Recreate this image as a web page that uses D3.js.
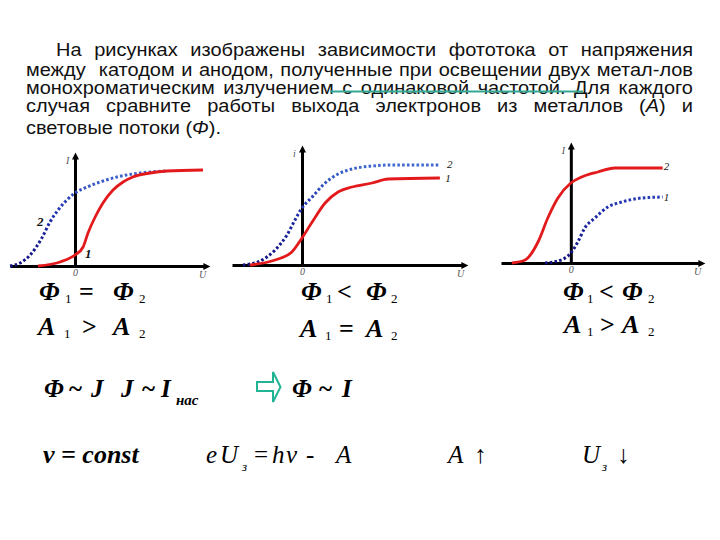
<!DOCTYPE html>
<html>
<head>
<meta charset="utf-8">
<script src="https://cdn.jsdelivr.net/npm/d3@7"></script>
<style>
body { margin: 0; background: #fff; }
</style>
</head>
<body>
<script>
var width = 720;
var height = 540;

// paragraph lines, |...| marks italic parts
var paraLines = [
    "На рисунках изображены зависимости фототока от напряжения",
    "между  катодом и анодом, полученные при освещении двух метал-лов",
    "монохроматическим излучением с одинаковой частотой. Для каждого",
    "случая сравните работы выхода электронов из металлов (|А|) и",
    "световые потоки (|Φ|)."
];

// curves, U (arbitrary units) vs I (arbitrary units)
// panel A : Ф1 = Ф2, A1 > A2
var uA1 = [-1.14, -0.46, 0, 0.25, 0.4, 0.62, 0.86, 1.17, 1.48, 1.78, 2.31, 2.83, 3.94];
var iA1 = [0, 0.04, 0.11, 0.19, 0.33, 0.49, 0.63, 0.76, 0.84, 0.89, 0.93, 0.95, 0.96];
var uA2 = [-2, -1.69, -1.38, -1.02, -0.77, -0.52, -0.25, 0, 0.37, 0.77, 1.29, 1.78, 2.31, 2.83];
var iA2 = [0, 0.03, 0.11, 0.28, 0.44, 0.56, 0.66, 0.73, 0.79, 0.84, 0.89, 0.92, 0.94, 0.95];
// panel B : Ф1 < Ф2, A1 = A2
var uB1 = [-1.49, -0.77, -0.29, 0, 0.29, 0.66, 1.03, 1.43, 2.0, 2.46, 3.94];
var iB1 = [0, 0.05, 0.13, 0.27, 0.43, 0.62, 0.73, 0.78, 0.82, 0.86, 0.87];
var uB2 = [-1.69, -1.26, -0.77, -0.43, -0.2, 0, 0.29, 0.66, 1.03, 1.43, 2.0, 2.57, 3.94];
var iB2 = [0, 0.03, 0.15, 0.30, 0.45, 0.57, 0.68, 0.82, 0.91, 0.96, 0.99, 1.0, 1.0];
// panel C : Ф1 < Ф2, A1 > A2
var uC1 = [-0.74, -0.37, 0, 0.2, 0.4, 0.69, 1.06, 1.46, 2.03, 2.63];
var iC1 = [0, 0.02, 0.10, 0.21, 0.35, 0.45, 0.56, 0.61, 0.65, 0.66];
var uC2 = [-1.69, -1.31, -0.94, -0.66, -0.37, 0, 0.31, 0.77, 1.26, 2.63];
var iC2 = [0, 0.03, 0.21, 0.45, 0.65, 0.80, 0.86, 0.91, 0.95, 0.95];

var zip = function(u, i) { return u.map(function(d, k) { return [d, i[k]]; }); };

var panels = [
    { u: [-2, 4], i: [0, 1.09], xr: [10, 205], yr: [266, 157], yLab: "I", labBold: true,
      curves: [
        { pts: zip(uA2, iA2), dotted: true, name: "2", at: [-1.17, 0.40] },
        { pts: zip(uA1, iA1), dotted: false, name: "1", at: [0.31, 0.08] }
      ] },
    { u: [-2, 4.6], i: [0, 1.15], xr: [232, 463], yr: [265, 150], yLab: "i", labBold: false,
      curves: [
        { pts: zip(uB2, iB2), dotted: true, name: "2", at: [4.14, 0.97] },
        { pts: zip(uB1, iB1), dotted: false, name: "1", at: [4.09, 0.83] }
      ] },
    { u: [-2, 3.7], i: [0, 1.16], xr: [501, 700], yr: [263, 147], yLab: "I", labBold: false,
      curves: [
        { pts: zip(uC1, iC1), dotted: true, name: "1", at: [2.66, 0.62] },
        { pts: zip(uC2, iC2), dotted: false, name: "2", at: [2.66, 0.93] }
      ] }
];

var svg = d3.select("body").append("svg")
    .attr("width", width)
    .attr("height", height);

var defs = svg.append("defs");
defs.append("marker")
    .attr("id", "arr")
    .attr("viewBox", "0 0 10 10")
    .attr("refX", 3).attr("refY", 5)
    .attr("markerUnits", "userSpaceOnUse")
    .attr("markerWidth", 9).attr("markerHeight", 7)
    .attr("orient", "auto")
    .append("path").attr("d", "M0,0L10,5L0,10z").attr("fill", "#000");

// ---- paragraph ----
// glyphs in the slide are a bit wider than Arial, so stretch horizontally
var sx = 1.08;
var paraX = [56, 26, 26, 26, 26];
var paraY = [56.5, 76, 94, 112, 134.5];
var rightEdge = 693;

var para = svg.append("g").attr("transform", "scale(" + sx + ",1)");
paraLines.forEach(function(line, k) {
    var t = para.append("text")
        .attr("x", paraX[k] / sx).attr("y", paraY[k])
        .attr("font-family", "Liberation Sans, Arial, sans-serif")
        .attr("font-size", 18.5)
        .attr("fill", "#111")
        .style("white-space", "pre");
    line.split("|").forEach(function(s, j) {
        t.append("tspan").text(s).attr("font-style", j % 2 ? "italic" : null);
    });
    if (k < paraLines.length - 1) {
        var natural = t.node().getComputedTextLength();
        var spaces = (line.match(/ /g) || []).length;
        t.attr("word-spacing", ((rightEdge - paraX[k]) / sx - natural) / spaces);
    }
});

// the little teal stroke over line 3
svg.append("line")
    .attr("x1", 330).attr("x2", 583).attr("y1", 91.5).attr("y2", 91.5)
    .attr("stroke", "#34a893").attr("stroke-width", 2);

// ---- panels ----
panels.forEach(function(p, n) {
    var x = d3.scaleLinear().domain(p.u).range(p.xr);
    var y = d3.scaleLinear().domain(p.i).range(p.yr);
    var g = svg.append("g");

    var grad = defs.append("linearGradient")
        .attr("id", "blue" + n)
        .attr("gradientUnits", "userSpaceOnUse")
        .attr("x1", 0).attr("x2", 0)
        .attr("y1", p.yr[0]).attr("y2", p.yr[1]);
    grad.append("stop").attr("offset", "0%").attr("stop-color", "#12127e");
    grad.append("stop").attr("offset", "45%").attr("stop-color", "#1f2eaa");
    grad.append("stop").attr("offset", "100%").attr("stop-color", "#4a7ad8");

    // axes
    var xAxis = g.append("g")
        .attr("transform", "translate(0," + y(0) + ")")
        .call(d3.axisBottom(x).tickValues([0]).tickFormat(function() { return "0"; })
            .tickSize(0).tickSizeOuter(0).tickPadding(3));
    var yAxis = g.append("g")
        .attr("transform", "translate(" + x(0) + ",0)")
        .call(d3.axisLeft(y).tickValues([]).tickSize(0).tickSizeOuter(0));

    [xAxis, yAxis].forEach(function(a) {
        a.select(".domain")
            .attr("stroke", "#000")
            .attr("stroke-width", 3)
            .attr("marker-end", "url(#arr)");
    });
    xAxis.selectAll(".tick text")
        .attr("font-family", "Liberation Serif, serif")
        .attr("font-style", "italic")
        .attr("font-size", 10)
        .attr("fill", "#555");

    g.append("text")
        .attr("x", p.xr[1] - 6).attr("y", y(0) + 12)
        .attr("font-family", "Liberation Serif, serif")
        .attr("font-style", "italic").attr("font-size", 10)
        .attr("fill", "#555").text("U");
    g.append("text")
        .attr("x", x(0) - 9).attr("y", p.yr[1] + 7)
        .attr("font-family", "Liberation Serif, serif")
        .attr("font-style", "italic").attr("font-size", 10)
        .attr("fill", "#555").text(p.yLab);

    // curves
    var line = d3.line()
        .x(function(d) { return x(d[0]); })
        .y(function(d) { return y(d[1]); })
        .curve(d3.curveMonotoneX);

    p.curves.forEach(function(c) {
        g.append("path")
            .datum(c.pts)
            .attr("d", line)
            .attr("fill", "none")
            .attr("stroke", c.dotted ? "url(#blue" + n + ")" : "#e31a1c")
            .attr("stroke-width", c.dotted ? 3 : 2.8)
            .attr("stroke-dasharray", c.dotted ? "2.6,2.2" : null);
        g.append("text")
            .attr("x", x(c.at[0])).attr("y", y(c.at[1]))
            .attr("font-family", "Liberation Serif, serif")
            .attr("font-style", "italic")
            .attr("font-weight", p.labBold ? "bold" : "normal")
            .attr("font-size", p.labBold ? 13 : 11)
            .attr("fill", "#111")
            .text(c.name);
    });
});

// ---- formulas ----
var styles = {
    bi:  { size: 26, weight: "bold", style: "italic", dy: 0 },
    b:   { size: 26, weight: "bold", style: "normal", dy: 0 },
    sub: { size: 13, weight: "normal", style: "normal", dy: 3 },
    b3:  { size: 25, weight: "bold", style: "italic", dy: 0 },
    o3:  { size: 25, weight: "bold", style: "normal", dy: 0 },
    s3:  { size: 15, weight: "bold", style: "italic", dy: 8 },
    c4:  { size: 26, weight: "bold", style: "italic", dy: 0 },
    i:   { size: 25, weight: "normal", style: "italic", dy: 0 },
    r:   { size: 25, weight: "normal", style: "normal", dy: 0 },
    is:  { size: 13, weight: "normal", style: "italic", dy: 8 }
};

var eqRows = [
    { y: 300, items: [["Φ", 39, "bi"], ["1", 65, "sub"], ["=", 79, "b"], ["Φ", 113, "bi"], ["2", 139, "sub"],
                      ["Φ", 301, "bi"], ["1", 326, "sub"], ["<", 337, "b"], ["Φ", 366, "bi"], ["2", 391, "sub"],
                      ["Φ", 563, "bi"], ["1", 587, "sub"], ["<", 599, "b"], ["Φ", 622, "bi"], ["2", 648, "sub"]] },
    { y: 335, items: [["A", 38, "bi"], ["1", 64, "sub"], [">", 82, "b"], ["A", 113, "bi"], ["2", 139, "sub"]] },
    { y: 337, items: [["A", 300, "bi"], ["1", 325, "sub"], ["=", 339, "b"], ["A", 366, "bi"], ["2", 391, "sub"]] },
    { y: 333, items: [["A", 564, "bi"], ["1", 587, "sub"], [">", 600, "b"], ["A", 622, "bi"], ["2", 648, "sub"]] },
    { y: 397, items: [["Φ", 44, "b3"], ["~", 69, "o3"], ["J", 91, "b3"], ["J", 121, "b3"], ["~", 142, "o3"],
                      ["I", 161, "b3"], ["нас", 176, "s3"], ["Φ", 292, "b3"], ["~", 319, "o3"], ["I", 342, "b3"]] },
    { y: 463, items: [["ν = const", 43, "c4"], ["e", 206, "i"], ["U", 220, "i"], ["з", 242, "is"], ["=", 254, "r"],
                      ["h", 272, "i"], ["ν", 286, "i"], ["-", 306, "r"], ["A", 336, "i"],
                      ["A", 448, "i"], ["↑", 474, "r"], ["U", 582, "i"], ["з", 602, "is"], ["↓", 617, "r"]] }
];

eqRows.forEach(function(row) {
    row.items.forEach(function(it) {
        var st = styles[it[2]];
        svg.append("text")
            .attr("x", it[1]).attr("y", row.y + st.dy)
            .attr("font-family", "Liberation Serif, 'Times New Roman', serif")
            .attr("font-size", st.size)
            .attr("font-weight", st.weight)
            .attr("font-style", st.style)
            .attr("fill", "#000")
            .text(it[0]);
    });
});

// teal outline arrow
svg.append("path")
    .attr("d", "M257,382H273V372L280.5,387L273,402V391H257Z")
    .attr("fill", "#fff")
    .attr("stroke", "#20b494")
    .attr("stroke-width", 2)
    .attr("stroke-linejoin", "miter");
</script>
</body>
</html>
